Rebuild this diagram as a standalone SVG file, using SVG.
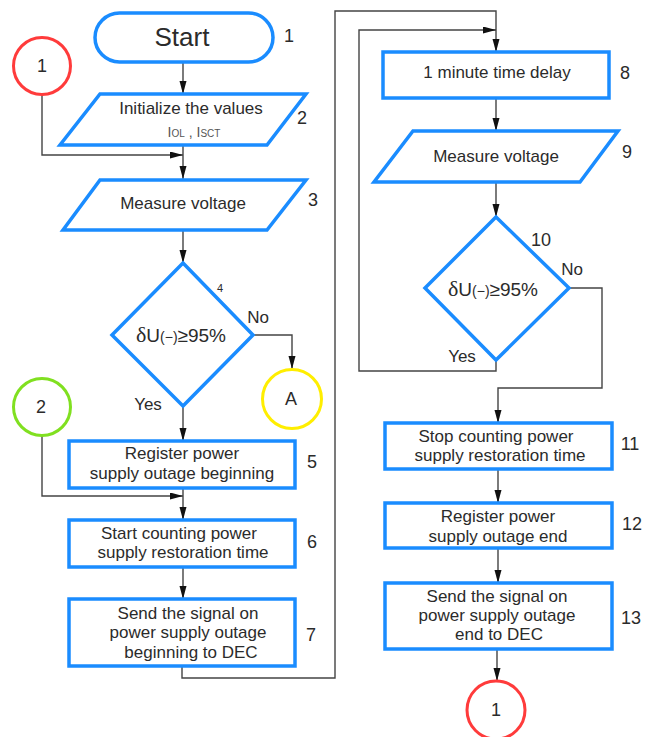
<svg xmlns="http://www.w3.org/2000/svg" width="652" height="737" viewBox="0 0 652 737">
  <style>
    .shape { fill: #ffffff; stroke: #1a8cff; stroke-width: 3.5; stroke-linejoin: miter; }
    .conn { fill: none; stroke: #444444; stroke-width: 1.4; }
    .txt { font-family: "Liberation Sans", Arial, sans-serif; font-size: 17px; fill: #2b2b2b; text-anchor: middle; }
    .num { font-family: "Liberation Sans", Arial, sans-serif; font-size: 18px; fill: #2b2b2b; text-anchor: middle; }
    .sub { font-size: 10px; fill: #555555; }
    .cond { font-family: "Liberation Sans", Arial, sans-serif; font-size: 19px; fill: #2b2b2b; text-anchor: middle; }
  </style>
  <defs>
    <marker id="arrow" markerUnits="userSpaceOnUse" markerWidth="14" markerHeight="8" refX="13" refY="3.5" orient="auto">
      <path d="M0,0 L13,3.5 L0,7 z" fill="#111111"/>
    </marker>
  </defs>

  <rect width="652" height="737" fill="#ffffff"/>

  <!-- connectors -->
  <g id="connectors">
    <line class="conn" x1="183" y1="62" x2="183" y2="94" marker-end="url(#arrow)"/>
    <path class="conn" d="M42,95 V155 H183" marker-end="url(#arrow)"/>
    <line class="conn" x1="183" y1="145" x2="183" y2="179" marker-end="url(#arrow)"/>
    <line class="conn" x1="183" y1="230" x2="183" y2="263" marker-end="url(#arrow)"/>
    <path class="conn" d="M253,335 H292 V369" marker-end="url(#arrow)"/>
    <line class="conn" x1="183" y1="406" x2="183" y2="441" marker-end="url(#arrow)"/>
    <path class="conn" d="M42,436 V496 H183" marker-end="url(#arrow)"/>
    <line class="conn" x1="183" y1="488" x2="183" y2="520" marker-end="url(#arrow)"/>
    <line class="conn" x1="183" y1="567" x2="183" y2="599" marker-end="url(#arrow)"/>
    <path class="conn" d="M182,666 V678 H335 V11 H496 V52" marker-end="url(#arrow)"/>
    <path class="conn" d="M496,360 V371 H359 V30 H496" marker-end="url(#arrow)"/>
    <line class="conn" x1="496" y1="98" x2="496" y2="131" marker-end="url(#arrow)"/>
    <line class="conn" x1="496" y1="182" x2="496" y2="217" marker-end="url(#arrow)"/>
    <path class="conn" d="M569,288 H602 V388 H498 V423" marker-end="url(#arrow)"/>
    <line class="conn" x1="498" y1="469" x2="498" y2="503" marker-end="url(#arrow)"/>
    <line class="conn" x1="498" y1="548" x2="498" y2="583" marker-end="url(#arrow)"/>
    <line class="conn" x1="497" y1="649" x2="497" y2="681" marker-end="url(#arrow)"/>
  </g>

  <!-- 1: Start -->
  <g id="n1">
    <rect class="shape" x="95" y="13" width="178" height="49" rx="24.5"/>
    <text class="txt" x="182" y="46" style="font-size:26px">Start</text>
    <text class="num" x="289" y="42">1</text>
  </g>

  <!-- connector circle 1 (entry) -->
  <g id="c1">
    <circle cx="42" cy="66" r="28.5" fill="#ffffff" stroke="#ff3b3b" stroke-width="3"/>
    <text class="num" x="42" y="72">1</text>
  </g>

  <!-- 2: Initialize the values -->
  <g id="n2">
    <polygon class="shape" points="100,94 306,94 267,145 60,145"/>
    <text class="txt" x="191" y="114">Initialize the values</text>
    <text class="txt" x="194" y="137" style="font-size:14px;fill:#555">I<tspan class="sub">OL</tspan> , I<tspan class="sub">SCT</tspan></text>
    <text class="num" x="302" y="124">2</text>
  </g>

  <!-- 3: Measure voltage -->
  <g id="n3">
    <polygon class="shape" points="100,180 306,180 267,230 63,230"/>
    <text class="txt" x="183" y="209">Measure voltage</text>
    <text class="num" x="313" y="206">3</text>
  </g>

  <!-- 4: decision -->
  <g id="n4">
    <polygon class="shape" points="183,263 253,335 183,406 112,335"/>
    <text class="cond" x="181" y="342"><tspan font-family="Liberation Serif, serif" font-size="22px">δ</tspan>U<tspan font-size="14px">(−)</tspan>≥95%</text>
    <text class="num" x="220" y="292" style="font-size:11px">4</text>
    <text class="txt" x="258" y="323">No</text>
    <text class="txt" x="148" y="410">Yes</text>
  </g>

  <!-- connector circle A -->
  <g id="cA">
    <circle cx="292" cy="399" r="29.5" fill="#ffffff" stroke="#ffee00" stroke-width="3"/>
    <text class="num" x="291" y="405">A</text>
  </g>

  <!-- connector circle 2 -->
  <g id="c2">
    <circle cx="42" cy="407" r="28.5" fill="#ffffff" stroke="#80e020" stroke-width="3"/>
    <text class="num" x="41" y="413">2</text>
  </g>

  <!-- 5 -->
  <g id="n5">
    <rect class="shape" x="69" y="441" width="226" height="47"/>
    <text class="txt" x="182" y="459">Register power</text>
    <text class="txt" x="182" y="479">supply outage beginning</text>
    <text class="num" x="312" y="468">5</text>
  </g>

  <!-- 6 -->
  <g id="n6">
    <rect class="shape" x="69" y="520" width="226" height="47"/>
    <text class="txt" x="179" y="539">Start counting power</text>
    <text class="txt" x="183" y="558">supply restoration time</text>
    <text class="num" x="312" y="548">6</text>
  </g>

  <!-- 7 -->
  <g id="n7">
    <rect class="shape" x="69" y="599" width="226" height="67"/>
    <text class="txt" x="188" y="619">Send the signal on</text>
    <text class="txt" x="188" y="638">power supply outage</text>
    <text class="txt" x="191" y="658">beginning to DEC</text>
    <text class="num" x="311" y="641">7</text>
  </g>

  <!-- 8 -->
  <g id="n8">
    <rect class="shape" x="383" y="52" width="226" height="46"/>
    <text class="txt" x="497" y="78">1 minute time delay</text>
    <text class="num" x="625" y="79">8</text>
  </g>

  <!-- 9 -->
  <g id="n9">
    <polygon class="shape" points="413,131 618,131 580,182 374,182"/>
    <text class="txt" x="496" y="162">Measure voltage</text>
    <text class="num" x="627" y="158">9</text>
  </g>

  <!-- 10: decision -->
  <g id="n10">
    <polygon class="shape" points="496,217 569,288 496,360 425,288"/>
    <text class="cond" x="493" y="296"><tspan font-family="Liberation Serif, serif" font-size="22px">δ</tspan>U<tspan font-size="14px">(−)</tspan>≥95%</text>
    <text class="num" x="541" y="246">10</text>
    <text class="txt" x="572" y="275">No</text>
    <text class="txt" x="462" y="362">Yes</text>
  </g>

  <!-- 11 -->
  <g id="n11">
    <rect class="shape" x="385" y="423" width="227" height="46"/>
    <text class="txt" x="496" y="442">Stop counting power</text>
    <text class="txt" x="500" y="461">supply restoration time</text>
    <text class="num" x="630" y="450">11</text>
  </g>

  <!-- 12 -->
  <g id="n12">
    <rect class="shape" x="385" y="503" width="227" height="45"/>
    <text class="txt" x="498" y="522">Register power</text>
    <text class="txt" x="498" y="542">supply outage end</text>
    <text class="num" x="632" y="530">12</text>
  </g>

  <!-- 13 -->
  <g id="n13">
    <rect class="shape" x="385" y="583" width="227" height="66"/>
    <text class="txt" x="497" y="602">Send the signal on</text>
    <text class="txt" x="497" y="621">power supply outage</text>
    <text class="txt" x="499" y="640">end to DEC</text>
    <text class="num" x="631" y="624">13</text>
  </g>

  <!-- connector circle 1 (exit) -->
  <g id="c1b">
    <circle cx="496" cy="710" r="29" fill="#ffffff" stroke="#ff3b3b" stroke-width="3"/>
    <text class="num" x="496" y="716">1</text>
  </g>
</svg>
